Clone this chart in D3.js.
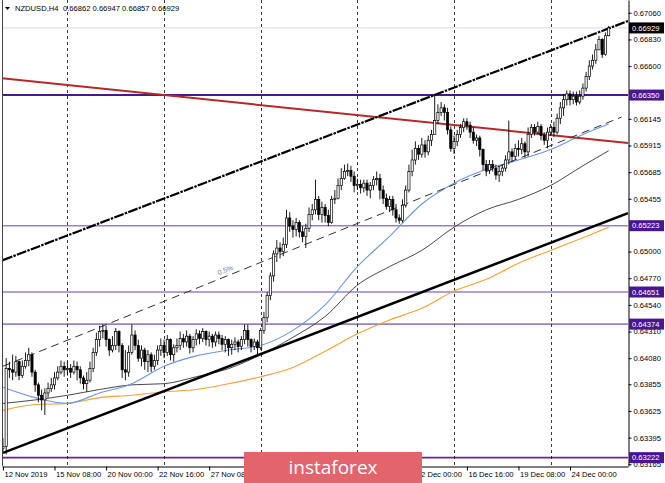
<!DOCTYPE html>
<html>
<head>
<meta charset="utf-8">
<script src="https://cdn.jsdelivr.net/npm/d3@7"></script>
<style>
  body { margin: 0; background: #fff; }
  svg { display: block; font-family: "Liberation Sans", Arial, sans-serif; }
</style>
</head>
<body>
<svg id="chart" width="665" height="483"></svg>
<script>
// NZDUSD H4 candles (bar 0 = 12 Nov 2019)
var firstOpen = 0.6330;
var closes = [
  0.6332,0.6399,0.6398,0.6396,0.6405,0.6393,0.6401,0.6406,0.6411,0.6396,
  0.6385,0.6376,0.6372,0.6378,0.6382,0.6385,0.6391,0.6396,0.6401,0.6398,
  0.6399,0.6396,0.6401,0.6398,0.6391,0.6386,0.6389,0.6399,0.6413,0.6424,
  0.6431,0.6432,0.6424,0.6415,0.6419,0.6431,0.6419,0.6398,0.6396,0.6413,
  0.6428,0.6419,0.6408,0.6415,0.6405,0.6411,0.6401,0.6406,0.6415,0.6419,
  0.6413,0.6424,0.6411,0.6417,0.6419,0.6425,0.6422,0.6427,0.6417,0.6424,
  0.6429,0.6425,0.6431,0.6424,0.6427,0.6422,0.6428,0.6425,0.6420,0.6424,
  0.6417,0.6420,0.6422,0.6418,0.6424,0.6432,0.6424,0.6418,0.6422,0.6417,
  0.6432,0.6443,0.6462,0.6479,0.6498,0.6503,0.6500,0.6506,0.6529,0.6522,
  0.6519,0.6525,0.6517,0.6513,0.6520,0.6532,0.6536,0.6545,0.6532,0.6538,
  0.6531,0.6525,0.6545,0.6546,0.6557,0.6563,0.6569,0.6570,0.6565,0.6557,
  0.6558,0.6555,0.6559,0.6553,0.6557,0.6562,0.6563,0.6553,0.6546,0.6539,
  0.6545,0.6536,0.6529,0.6527,0.6540,0.6553,0.6569,0.6579,0.6589,0.6584,
  0.6592,0.6586,0.6596,0.6601,0.6613,0.6620,0.6624,0.6620,0.6605,0.6589,
  0.6595,0.6601,0.6607,0.6612,0.6609,0.6603,0.6596,0.6598,0.6588,0.6575,
  0.6570,0.6575,0.6572,0.6566,0.6569,0.6572,0.6579,0.6586,0.6582,0.6589,
  0.6588,0.6593,0.6586,0.6601,0.6607,0.6603,0.6608,0.6600,0.6596,0.6603,
  0.6607,0.6603,0.6615,0.6624,0.6631,0.6636,0.6631,0.6634,0.6629,0.6634,
  0.6641,0.6651,0.6660,0.6665,0.6674,0.6683,0.6670,0.66862,0.66929
];
var highs = [
  0.6339,0.6408,0.6405,0.6411,0.6410,0.6406,0.6406,0.6413,0.6417,0.6413,
  0.6398,0.6387,0.6381,0.6382,0.6387,0.6391,0.6396,0.6401,0.6406,0.6405,
  0.6405,0.6403,0.6406,0.6405,0.6401,0.6393,0.6396,0.6405,0.6417,0.6430,
  0.6436,0.6437,0.6436,0.6425,0.6427,0.6434,0.6432,0.6421,0.6415,0.6419,
  0.6437,0.6432,0.6424,0.6419,0.6417,0.6415,0.6413,0.6411,0.6419,0.6425,
  0.6424,0.6428,0.6425,0.6420,0.6425,0.6431,0.6429,0.6432,0.6429,0.6427,
  0.6433,0.6432,0.6434,0.6432,0.6431,0.6429,0.6431,0.6431,0.6428,0.6427,
  0.6425,0.6424,0.6426,0.6424,0.6427,0.6437,0.6437,0.6425,0.6425,0.6424,
  0.6434,0.6448,0.6465,0.6482,0.6501,0.6510,0.6508,0.6512,0.6536,0.6534,
  0.6527,0.6529,0.6527,0.6522,0.6524,0.6538,0.6541,0.6562,0.6548,0.6543,
  0.6541,0.6536,0.6548,0.6553,0.6563,0.6572,0.6575,0.6576,0.6574,0.6569,
  0.6563,0.6562,0.6562,0.6562,0.6560,0.6565,0.6569,0.6567,0.6557,0.6550,
  0.6548,0.6548,0.6541,0.6532,0.6545,0.6557,0.6575,0.6588,0.6595,0.6592,
  0.6598,0.6596,0.6600,0.6605,0.6635,0.6627,0.6629,0.6627,0.6624,0.6608,
  0.6600,0.6605,0.6610,0.6615,0.6615,0.6612,0.6607,0.6601,0.6600,0.6589,
  0.6579,0.6579,0.6579,0.6575,0.6574,0.6575,0.6583,0.6613,0.6589,0.6593,
  0.6596,0.6598,0.6595,0.6607,0.6610,0.6610,0.6612,0.6610,0.6603,0.6607,
  0.6610,0.6612,0.6619,0.6629,0.6636,0.6639,0.6639,0.6638,0.6638,0.6639,
  0.6645,0.6655,0.6665,0.6670,0.6679,0.6686,0.6684,0.6689,0.66947
];
var lows = [
  0.6326,0.6325,0.6391,0.6389,0.6392,0.6389,0.6391,0.6399,0.6401,0.6392,
  0.6379,0.6370,0.6363,0.6359,0.6374,0.6379,0.6381,0.6389,0.6394,0.6392,
  0.6393,0.6391,0.6394,0.6389,0.6386,0.6381,0.6379,0.6387,0.6396,0.6410,
  0.6418,0.6425,0.6418,0.6410,0.6413,0.6415,0.6413,0.6391,0.6389,0.6392,
  0.6411,0.6415,0.6405,0.6401,0.6398,0.6396,0.6396,0.6398,0.6402,0.6410,
  0.6408,0.6410,0.6406,0.6405,0.6413,0.6415,0.6417,0.6418,0.6412,0.6413,
  0.6419,0.6420,0.6422,0.6419,0.6418,0.6417,0.6418,0.6420,0.6415,0.6413,
  0.6410,0.6411,0.6415,0.6413,0.6415,0.6420,0.6418,0.6413,0.6415,0.6411,
  0.6415,0.6429,0.6439,0.6458,0.6474,0.6491,0.6494,0.6496,0.6503,0.6517,
  0.6512,0.6513,0.6512,0.6508,0.6503,0.6517,0.6527,0.6532,0.6527,0.6525,
  0.6525,0.6522,0.6524,0.6541,0.6545,0.6553,0.6562,0.6565,0.6560,0.6551,
  0.6553,0.6550,0.6551,0.6548,0.6546,0.6553,0.6557,0.6545,0.6541,0.6536,
  0.6534,0.6531,0.6525,0.6524,0.6525,0.6538,0.6551,0.6565,0.6575,0.6579,
  0.6581,0.6581,0.6583,0.6591,0.6605,0.6610,0.6617,0.6613,0.6601,0.6586,
  0.6584,0.6591,0.6598,0.6603,0.6605,0.6598,0.6593,0.6591,0.6582,0.6570,
  0.6565,0.6567,0.6569,0.6562,0.6560,0.6565,0.6569,0.6575,0.6577,0.6579,
  0.6582,0.6584,0.6581,0.6582,0.6598,0.6600,0.6601,0.6596,0.6592,0.6589,
  0.6600,0.6599,0.6601,0.6610,0.6617,0.6626,0.6626,0.6627,0.6626,0.6627,
  0.6631,0.6638,0.6648,0.6657,0.6662,0.6674,0.6667,0.6669,0.66857
];

// moving averages, sampled at these bar indices
var maIdx  = [0,10,20,30,40,50,60,70,80,90,100,110,120,130,140,150,160,170,180,188];
var maFast = [0.6383,0.6374,0.6369,0.6378,0.6386,0.6401,0.6410,0.6415,0.6419,0.6432,
              0.6454,0.6487,0.6513,0.6541,0.6559,0.6571,0.6579,0.6588,0.6601,0.6610];
var maMid  = [0.6369,0.6372,0.6376,0.6381,0.6385,0.6386,0.6392,0.6399,0.6411,0.6426,
              0.6444,0.6471,0.6487,0.6501,0.6521,0.6536,0.6545,0.6557,0.6574,0.6587];
var maSlow = [0.6363,0.6368,0.6369,0.6374,0.6376,0.6379,0.6381,0.6386,0.6392,0.6400,
              0.6414,0.6429,0.6441,0.6451,0.6466,0.6476,0.6490,0.6501,0.6512,0.6521];

// drawn objects: [barIndex, price] end points
var upperChannel = [[0, 0.64926], [194, 0.66989]];
var lowerChannel = [[0, 0.63263], [194, 0.65332]];
var midChannel   = [[0, 0.64011], [192, 0.66160]];
var redLine      = [[-0.3, 0.66494], [194, 0.65936]];

var levels = [0.66350, 0.65223, 0.64651, 0.64374, 0.63222];
var levelColors = ["#4b168f", "#9a7fcc", "#9a7fcc", "#9a7fcc", "#5b2a96"];
var bid = 0.66929;

var yTicks = [0.67060,0.66830,0.66600,0.66145,0.65915,0.65685,0.65455,0.65000,
              0.64770,0.64540,0.64310,0.64080,0.63855,0.63625,0.63395,0.63165];
var xTickIdx = [0,16,32,48,64,80,96,112,128,144,160,176];
var xTickLabels = ["12 Nov 2019","15 Nov 08:00","20 Nov 00:00","22 Nov 16:00","27 Nov 08:00",
  "2 Dec 00:00","4 Dec 16:00","9 Dec 08:00","12 Dec 00:00","16 Dec 16:00","19 Dec 08:00","24 Dec 00:00"];
var gridIdx = [20,50,80,110,140,170];

var svg = d3.select("#chart");
var x = d3.scaleLinear().domain([-0.3, 194]).range([2, 628]);
var y = d3.scaleLinear().domain([0.63150, 0.67170]).range([466, 0]);

svg.append("rect").attr("width", 665).attr("height", 483).attr("fill", "#fff");
svg.append("clipPath").attr("id", "clip")
  .append("rect").attr("x", 2).attr("y", 0).attr("width", 626).attr("height", 466);

var plot = svg.append("g").attr("clip-path", "url(#clip)");

// bid line
plot.append("line")
  .attr("x1", 2).attr("x2", 628)
  .attr("y1", y(bid)).attr("y2", y(bid))
  .attr("stroke", "#d9d6ec").attr("stroke-width", 1);

// horizontal levels
plot.selectAll(".lvl").data(levels).enter().append("line")
  .attr("x1", 2).attr("x2", 628)
  .attr("y1", d => y(d)).attr("y2", d => y(d))
  .attr("stroke", (d, i) => levelColors[i])
  .attr("stroke-width", (d, i) => i == 0 ? 2 : 1.6);

// vertical dotted grid
plot.selectAll(".vg").data(gridIdx).enter().append("line")
  .attr("x1", d => Math.round(x(d)) + 0.5).attr("x2", d => Math.round(x(d)) + 0.5)
  .attr("y1", 0).attr("y2", 466)
  .attr("stroke", "#222").attr("stroke-width", 0.9)
  .attr("stroke-dasharray", "3,3");

// moving averages
function maLine(vals) {
  return d3.line().curve(d3.curveMonotoneX)
    .x((d, i) => x(maIdx[i])).y(d => y(d))(vals);
}
plot.append("path").attr("d", maLine(maSlow)).attr("fill", "none").attr("stroke", "#ffa033").attr("stroke-width", 1.1);
plot.append("path").attr("d", maLine(maMid)).attr("fill", "none").attr("stroke", "#333").attr("stroke-width", 0.9);
plot.append("path").attr("d", maLine(maFast)).attr("fill", "none").attr("stroke", "#6c96ea").attr("stroke-width", 1.1);

// trend objects
var seg = d3.line().x(d => x(d[0])).y(d => y(d[1]));
plot.append("path").attr("d", seg(redLine)).attr("stroke", "#b5292b").attr("stroke-width", 2).attr("fill", "none");
plot.append("path").attr("d", seg(midChannel)).attr("stroke", "#333").attr("stroke-width", 1)
  .attr("stroke-dasharray", "8,5").attr("fill", "none");
plot.append("path").attr("d", seg(upperChannel)).attr("stroke", "#000").attr("stroke-width", 2.2)
  .attr("stroke-dasharray", "10,1.2,2.5,1.2").attr("fill", "none");
plot.append("path").attr("d", seg(lowerChannel)).attr("stroke", "#000").attr("stroke-width", 2.5).attr("fill", "none");

// 0.5% tag on the middle line
var tagIdx = 67;
var t = (tagIdx - midChannel[0][0]) / (midChannel[1][0] - midChannel[0][0]);
var tagPrice = midChannel[0][1] + t * (midChannel[1][1] - midChannel[0][1]);
var ang = Math.atan2(y(midChannel[1][1]) - y(midChannel[0][1]), x(midChannel[1][0]) - x(midChannel[0][0])) * 180 / Math.PI;
plot.append("text")
  .attr("transform", `translate(${x(tagIdx)}, ${y(tagPrice) - 4}) rotate(${ang})`)
  .attr("font-size", "7px").attr("fill", "#6a7f9f")
  .text("0.5%");

// candles
var bars = closes.map(function(c, i) {
  return { i: i, open: i == 0 ? firstOpen : closes[i - 1], high: highs[i], low: lows[i], close: c };
});
var candle = plot.selectAll(".c").data(bars).enter().append("g");
candle.append("line")
  .attr("x1", d => x(d.i)).attr("x2", d => x(d.i))
  .attr("y1", d => y(d.high)).attr("y2", d => y(d.low))
  .attr("stroke", "#000").attr("stroke-width", 0.9);
candle.append("rect")
  .attr("x", d => x(d.i) - 1.1)
  .attr("width", 2.2)
  .attr("y", d => y(Math.max(d.open, d.close)))
  .attr("height", d => Math.max(0.8, Math.abs(y(d.open) - y(d.close))))
  .attr("fill", d => d.close >= d.open ? "#fff" : "#000")
  .attr("stroke", "#000").attr("stroke-width", 0.7);

// left border
svg.append("line").attr("x1", 2.5).attr("x2", 2.5).attr("y1", 0).attr("y2", 466)
  .attr("stroke", "#444").attr("stroke-width", 1);

// price axis
var yAxis = svg.append("g")
  .attr("transform", "translate(628.5,0)")
  .call(d3.axisRight(y).tickValues(yTicks).tickSize(3).tickSizeOuter(0).tickPadding(2)
    .tickFormat(d3.format(".5f")));
yAxis.selectAll("text").attr("font-size", "7.6px").attr("fill", "#000")
  .attr("font-family", "Liberation Sans, Arial, sans-serif");

// time axis
var xAxis = svg.append("g")
  .attr("transform", "translate(0,466.5)")
  .call(d3.axisBottom(x).tickValues(xTickIdx).tickSize(4).tickSizeOuter(0).tickPadding(1)
    .tickFormat((d, i) => xTickLabels[i]));
xAxis.selectAll("text").attr("text-anchor", "start").attr("x", 1)
  .attr("font-size", "7.6px").attr("fill", "#000")
  .attr("font-family", "Liberation Sans, Arial, sans-serif");

// price tags on the right
var tags = svg.append("g");
levels.forEach(function(v) {
  tags.append("rect").attr("x", 629).attr("y", y(v) - 5.5).attr("width", 35).attr("height", 11)
    .attr("fill", "#4a168f");
  tags.append("text").attr("x", 632).attr("y", y(v) + 2.8)
    .attr("font-size", "7.6px").attr("fill", "#fff").text(v.toFixed(5));
});
tags.append("rect").attr("x", 629).attr("y", y(bid) - 5.5).attr("width", 35).attr("height", 11).attr("fill", "#000");
tags.append("text").attr("x", 632).attr("y", y(bid) + 2.8)
  .attr("font-size", "7.6px").attr("fill", "#fff").text(bid.toFixed(5));

// title
svg.append("path").attr("d", "M5,7 L10,7 L7.5,10 Z").attr("fill", "#000");
svg.append("text").attr("x", 15).attr("y", 11).attr("font-size", "7.6px").attr("fill", "#000")
  .text("NZDUSD,H4");
svg.append("text").attr("x", 63).attr("y", 11).attr("font-size", "7.6px").attr("fill", "#000")
  .text([closes[closes.length - 2], highs[highs.length - 1], lows[lows.length - 1], closes[closes.length - 1]]
    .map(v => v.toFixed(5)).join(" "));

// watermark banner (covers part of the time axis, as in the original)
svg.append("rect").attr("x", 244).attr("y", 452).attr("width", 178).attr("height", 31).attr("fill", "#e3646b");
svg.append("text").attr("x", 333).attr("y", 474).attr("text-anchor", "middle")
  .attr("font-family", "Open Sans, sans-serif").attr("font-size", "19px").attr("fill", "#fff")
  .text("instaforex");
</script>
</body>
</html>
